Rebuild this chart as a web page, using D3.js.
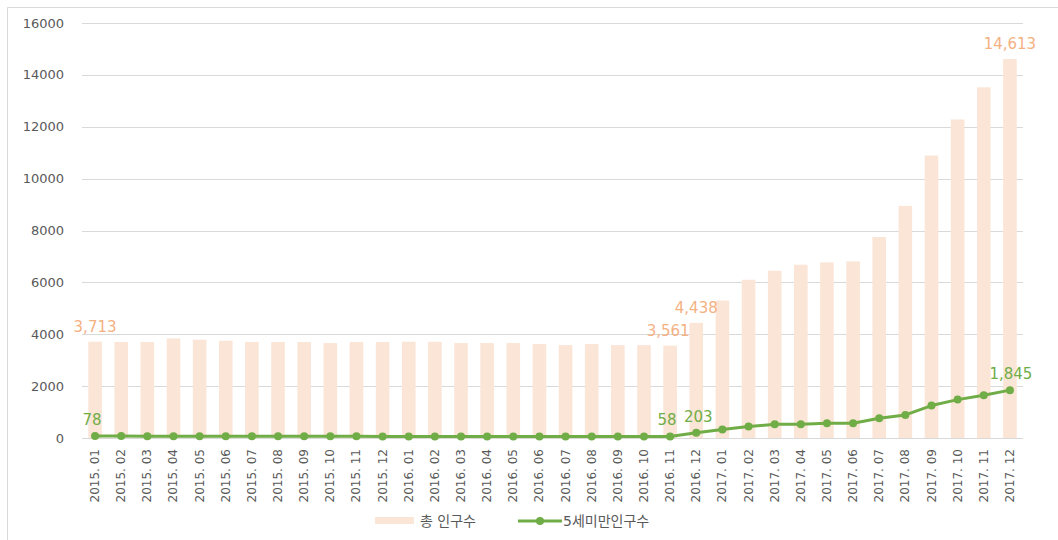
<!DOCTYPE html>
<html>
<head>
<meta charset="utf-8">
<script src="https://cdn.jsdelivr.net/npm/d3@7"></script>
<style>
  body { margin: 0; background: #fff; }
  svg text { font-family: "DejaVu Sans", "Noto Sans CJK KR", sans-serif; }
</style>
</head>
<body>
<div id="chart"></div>
<script>
const months = [
    '2015. 01', '2015. 02', '2015. 03', '2015. 04', '2015. 05', '2015. 06',
    '2015. 07', '2015. 08', '2015. 09', '2015. 10', '2015. 11', '2015. 12',
    '2016. 01', '2016. 02', '2016. 03', '2016. 04', '2016. 05', '2016. 06',
    '2016. 07', '2016. 08', '2016. 09', '2016. 10', '2016. 11', '2016. 12',
    '2017. 01', '2017. 02', '2017. 03', '2017. 04', '2017. 05', '2017. 06',
    '2017. 07', '2017. 08', '2017. 09', '2017. 10', '2017. 11', '2017. 12'
];
const totalPop = [
    3713, 3700, 3700, 3840, 3790, 3750, 3700, 3700, 3700, 3660, 3700, 3700,
    3710, 3710, 3660, 3660, 3660, 3620, 3580, 3620, 3580, 3580, 3561, 4438,
    5300, 6100, 6450, 6680, 6770, 6810, 7750, 8950, 10890, 12280, 13520, 14613
];
const under5Pop = [
    78, 74, 72, 71, 70, 69, 68, 66, 65, 64, 63, 62,
    62, 61, 61, 60, 60, 59, 59, 59, 58, 58, 58, 203,
    330, 440, 530, 530, 570, 570, 760, 890, 1250, 1480, 1650, 1845
];
const yTicks = [0, 2000, 4000, 6000, 8000, 10000, 12000, 14000, 16000];
// which points get a data label
const barLabelIdx = [0, 22, 23, 35];
const lineLabelIdx = [0, 22, 23, 35];
const legendNames = ['총 인구수', '5세미만인구수'];

const width = 1058, height = 540;
const margin = { top: 23, right: 35, bottom: 102, left: 82 };
const barColor = '#fbe5d6', barLabel = '#f4b183', green = '#70ad47';

const svg = d3.select('#chart').append('svg')
    .attr('width', width)
    .attr('height', height);

// outer chart border (right/bottom cut off in the original)
svg.append('path')
    .attr('d', `M7.5,${height}V7.5H${width}`)
    .attr('fill', 'none')
    .attr('stroke', '#d9d9d9');

const x = d3.scaleBand().domain(months)
    .range([margin.left, width - margin.right]).paddingInner(0.48).paddingOuter(0.24);
const y = d3.scaleLinear().domain([0, 16000])
    .range([height - margin.bottom, margin.top]);

// gridlines
svg.append('g')
    .selectAll('line')
    .data(yTicks)
    .enter().append('line')
    .attr('x1', margin.left)
    .attr('x2', width - margin.right)
    .attr('y1', d => Math.round(y(d)) + 0.5)
    .attr('y2', d => Math.round(y(d)) + 0.5)
    .attr('stroke', '#d9d9d9')
    .attr('stroke-width', 1);

// y axis labels
svg.append('g')
    .selectAll('text')
    .data(yTicks)
    .enter().append('text')
    .attr('x', 64)
    .attr('y', d => y(d))
    .attr('dy', '0.35em')
    .attr('text-anchor', 'end')
    .attr('font-size', 13)
    .attr('fill', '#595959')
    .text(d => d);

// bars
svg.append('g')
    .selectAll('rect')
    .data(totalPop)
    .enter().append('rect')
    .attr('x', (d, i) => x(months[i]))
    .attr('y', d => y(d))
    .attr('width', x.bandwidth())
    .attr('height', d => y(0) - y(d))
    .attr('fill', barColor);

// x axis labels
svg.append('g')
    .selectAll('text')
    .data(months)
    .enter().append('text')
    .attr('transform', d => `translate(${x(d) + x.bandwidth() / 2 + 4},449) rotate(-90)`)
    .attr('text-anchor', 'end')
    .attr('font-size', 12)
    .attr('fill', '#595959')
    .text(d => d);

// line
const cx = i => x(months[i]) + x.bandwidth() / 2;
svg.append('path')
    .datum(under5Pop)
    .attr('d', d3.line().x((d, i) => cx(i)).y(d => y(d)))
    .attr('fill', 'none')
    .attr('stroke', green)
    .attr('stroke-width', 3)
    .attr('stroke-linejoin', 'round');

svg.append('g')
    .selectAll('circle')
    .data(under5Pop)
    .enter().append('circle')
    .attr('cx', (d, i) => cx(i))
    .attr('cy', d => y(d))
    .attr('r', 4)
    .attr('fill', green);

const fmt = d3.format(',');

// bar data labels
svg.append('g')
    .selectAll('text')
    .data(barLabelIdx)
    .enter().append('text')
    .attr('x', i => cx(i) + (i === 22 ? -2 : 0))
    .attr('y', i => y(totalPop[i]) - 10)
    .attr('text-anchor', 'middle')
    .attr('font-size', 15)
    .attr('fill', barLabel)
    .text(i => fmt(totalPop[i]));

// line data labels
svg.append('g')
    .selectAll('text')
    .data(lineLabelIdx)
    .enter().append('text')
    .attr('x', i => cx(i) + (i === 0 ? -3 : i === 22 ? -3 : i === 35 ? 1 : 2))
    .attr('y', i => y(under5Pop[i]) - 11)
    .attr('text-anchor', 'middle')
    .attr('font-size', 15)
    .attr('fill', green)
    .text(i => fmt(under5Pop[i]));

// legend
const legend = svg.append('g').attr('transform', 'translate(0,521)');
legend.append('rect')
    .attr('x', 375).attr('y', -4)
    .attr('width', 39).attr('height', 7)
    .attr('fill', barColor);
legend.append('text')
    .attr('x', 420).attr('y', 0).attr('dy', '0.35em')
    .attr('font-size', 14).attr('fill', '#595959')
    .text(legendNames[0]);
legend.append('line')
    .attr('x1', 518).attr('x2', 562)
    .attr('y1', 0).attr('y2', 0)
    .attr('stroke', green).attr('stroke-width', 3);
legend.append('circle')
    .attr('cx', 540).attr('cy', 0).attr('r', 4)
    .attr('fill', green);
legend.append('text')
    .attr('x', 563).attr('y', 0).attr('dy', '0.35em')
    .attr('font-size', 14).attr('fill', '#595959')
    .text(legendNames[1]);
</script>
</body>
</html>
